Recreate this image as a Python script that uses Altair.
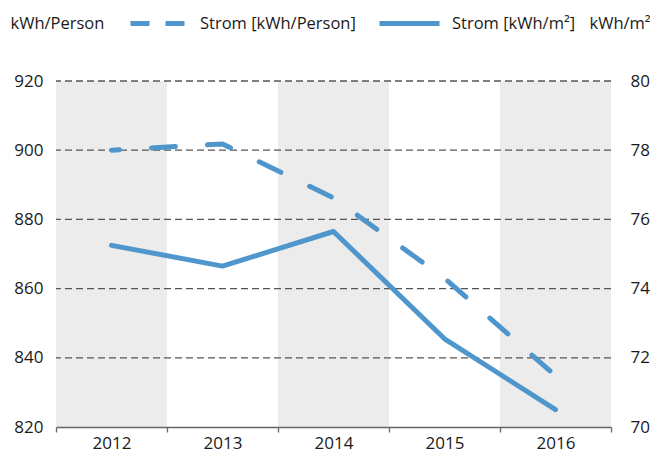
import altair as alt
import pandas as pd

years = ["2012", "2013", "2014", "2015", "2016"]
kwh_person = [900.0, 901.8, 886.2, 863.0, 834.8]
kwh_m2 = [75.25, 74.65, 75.65, 72.55, 70.5]
shaded_years = ["2012", "2014", "2016"]
left_ticks = [820, 840, 860, 880, 900, 920]
grid_values = [840, 860, 880, 900, 920]
right_ticks = [70, 72, 74, 76, 78, 80]
series_person = "Strom [kWh/Person]"
series_m2 = "Strom [kWh/m²]"

FONT = "Open Sans"
BLUE = "#4f96cc"
TXT = "#1a1a1a"

df_person = pd.DataFrame({"year": years, "value": kwh_person, "series": series_person})
df_m2 = pd.DataFrame({"year": years, "value": kwh_m2, "series": series_m2})
df_bands = pd.DataFrame({"year": shaded_years})
df_grid = pd.DataFrame({"v": grid_values})

xscale = alt.Scale(domain=years, paddingInner=0, paddingOuter=0)
xaxis = alt.Axis(title=None, labelAngle=0, tickBand="extent", domainColor="#666666",
                 tickColor="#666666", tickSize=5, labelFontSize=17, labelPadding=3,
                 labelColor=TXT, grid=False, labelFont=FONT, domainWidth=1.3, tickWidth=1.3)

left_scale = alt.Scale(domain=[820, 920], nice=False, zero=False)
right_scale = alt.Scale(domain=[70, 80], nice=False, zero=False)

bands = alt.Chart(df_bands).mark_rect(color="#ececec").encode(
    x=alt.X("year:O", scale=xscale, axis=xaxis)
)

grid = alt.Chart(df_grid).mark_rule(color="#555555", strokeDash=[7, 4], strokeWidth=1.3).encode(
    y=alt.Y("v:Q", scale=left_scale)
)

dashed = alt.Chart(df_person).mark_line(strokeWidth=5, strokeCap="round", strokeJoin="round",
                                        strokeDashOffset=16).encode(
    x=alt.X("year:O", scale=xscale, axis=xaxis),
    y=alt.Y("value:Q", scale=left_scale,
            axis=alt.Axis(values=left_ticks, domain=False, ticks=False, grid=False,
                          labelPadding=13, labelFontSize=17, labelColor=TXT, labelFont=FONT,
                          title="kWh/Person", titleAngle=0, titleAlign="left",
                          titleBaseline="middle", titleX=-46, titleY=-58,
                          titleFontWeight="normal", titleFontSize=16.5, titleFont=FONT,
                          titleColor=TXT)),
    color=alt.Color("series:N", scale=alt.Scale(range=[BLUE]),
                    legend=alt.Legend(orient="none", legendX=72, legendY=-87, title=None,
                                      symbolType="stroke", symbolDash=[19, 16],
                                      symbolDashOffset=0,
                                      symbolStrokeWidth=5, symbolSize=2916,
                                      labelFontSize=16.5, labelFont=FONT, labelColor=TXT,
                                      labelOffset=13, padding=0)),
    strokeDash=alt.value([24, 32]),
)

solid = alt.Chart(df_m2).mark_line(strokeWidth=5, strokeCap="round", strokeJoin="round").encode(
    x=alt.X("year:O", scale=xscale, axis=xaxis),
    y=alt.Y("value:Q", scale=right_scale,
            axis=alt.Axis(orient="right", values=right_ticks, domain=False, ticks=False, grid=False,
                          labelPadding=19, labelFontSize=17, labelColor=TXT, labelFont=FONT,
                          title="kWh/m²", titleAngle=0, titleAlign="left",
                          titleBaseline="middle", titleX=-22, titleY=-58,
                          titleFontWeight="normal", titleFontSize=16.5, titleFont=FONT,
                          titleColor=TXT)),
    color=alt.Color("series:N", scale=alt.Scale(range=[BLUE]),
                    legend=alt.Legend(orient="none", legendX=321, legendY=-90, title=None,
                                      symbolType="stroke", symbolStrokeWidth=5, symbolSize=3600,
                                      labelFontSize=16.5, labelFont=FONT, labelColor=TXT,
                                      labelOffset=10, padding=0)),
)

left = alt.layer(bands, grid, dashed)
chart = alt.layer(left, solid).resolve_scale(y="independent", color="independent").properties(
    width=555, height=346,
    autosize=alt.AutoSizeParams(type="none"),
    padding={"left": 48, "top": 73, "right": 39, "bottom": 27},
).configure_view(stroke=None)

chart.save("out.html", embed_options={"renderer": "svg", "actions": False})
